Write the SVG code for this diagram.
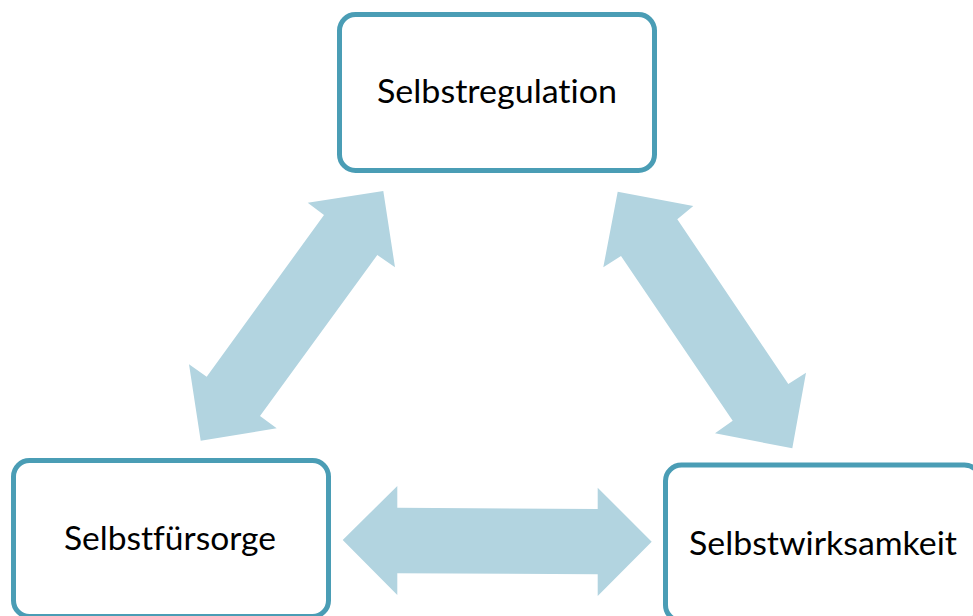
<svg xmlns="http://www.w3.org/2000/svg" width="973" height="616" viewBox="0 0 973 616">
  <style>
    .box { fill: #ffffff; stroke: #4a9db5; stroke-width: 5; }
    .arrow { fill: #b2d4e0; stroke: none; }
    .label { font-family: Lato, "Open Sans", "Liberation Sans", sans-serif; font-size: 32px; fill: #000000; text-anchor: middle; font-variant-ligatures: none; font-feature-settings: "liga" 0, "dlig" 0; }
  </style>
  <rect width="973" height="616" fill="#ffffff"/>
  <g id="connectors">
    <polygon class="arrow" points="383.3,191 395,267.3 377.3,255 260,416 276.7,428.3 200.7,440.7 189,364.3 206.7,376.7 324,215 307.7,202.7"/>
    <polygon class="arrow" points="617.7,191.7 693.3,206 677.3,219.3 788.3,384 806,372.7 792.3,448.3 715,433.3 732.7,420.7 621,256 603.3,267.3"/>
    <polygon class="arrow" points="342.7,540 397.3,486 397.3,507.7 597.7,509 597.7,487.7 651.7,541.7 597.7,596 597.7,574.3 397.3,573.3 397.3,595"/>
  </g>
  <g id="node-selbstregulation">
    <rect class="box" x="339.5" y="14.5" width="315" height="156" rx="16" ry="16"/>
    <text class="label" x="497" y="103" textLength="240" lengthAdjust="spacingAndGlyphs">Selbstregulation</text>
  </g>
  <g id="node-selbstfuersorge">
    <rect class="box" x="13.5" y="460.5" width="315" height="156" rx="16" ry="16"/>
    <text class="label" x="170" y="550" textLength="212" lengthAdjust="spacingAndGlyphs">Selbstfürsorge</text>
  </g>
  <g id="node-selbstwirksamkeit">
    <rect class="box" x="665.5" y="465" width="315" height="156" rx="16" ry="16"/>
    <text class="label" x="823" y="555" textLength="268" lengthAdjust="spacingAndGlyphs">Selbstwirksamkeit</text>
  </g>
</svg>
